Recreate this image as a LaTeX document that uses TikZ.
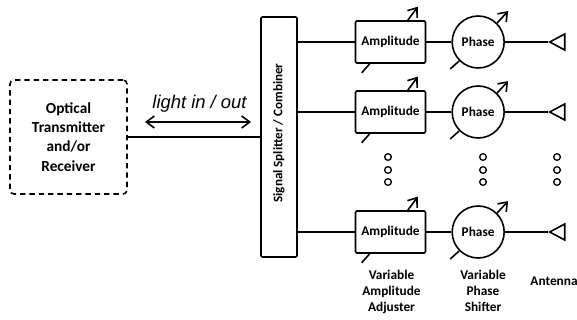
\documentclass[tikz,border=0pt]{standalone}
\usepackage{fontspec}
\setmainfont{Carlito}
\newfontfamily\arialfont{Liberation Sans}
\usetikzlibrary{positioning, calc}
\usetikzlibrary{arrows.meta}
\usetikzlibrary{shapes.geometric}
\tikzstyle{txbox}=[rectangle,line width=1.2pt,dash pattern=on 4pt off 3pt,rounded corners=3pt,draw=black,minimum width=87.75pt,minimum height=85.5pt,align=center,font=\fontsize{11.5pt}{14.4pt}\selectfont\bfseries]
\tikzstyle{splitbox}=[rectangle,line width=1.2pt,rounded corners=1pt,draw=black,minimum width=27pt,minimum height=180pt]
\tikzstyle{ampbox}=[rectangle,line width=1.2pt,rounded corners=1pt,draw=black,minimum width=52.5pt,minimum height=31.5pt,inner sep=0pt,font=\fontsize{10pt}{11pt}\selectfont\bfseries]
\tikzstyle{phasebox}=[circle,line width=1.2pt,draw=black,minimum size=39pt,inner sep=0pt,font=\fontsize{10pt}{11pt}\selectfont\bfseries]
\tikzstyle{antbox}=[isosceles triangle,isosceles triangle stretches,shape border rotate=180,line width=1.2pt,draw=black,minimum width=12pt,minimum height=11.25pt,inner sep=0pt]
\tikzstyle{dotbox}=[circle,line width=1pt,draw=black,minimum size=5pt,inner sep=0pt]
\tikzstyle{textbox}=[rectangle,align=center,inner sep=0pt,font=\fontsize{10pt}{12pt}\selectfont\bfseries]
\tikzstyle{edgepath}=[every edge/.style={draw,line width=1.2pt}]
\tikzstyle{stubpath}=[line width=1.2pt]
\tikzstyle{tunepath}=[-{Straight Barb[length=6pt,width=9pt]},line width=1.2pt]

\begin{document}
\begin{tikzpicture}[x=0.75pt,y=-0.75pt]
    \useasboundingbox (0,0) rectangle (577,320);
    \node[txbox] (tx) at (68.5,137) {Optical\\Transmitter\\and/or\\Receiver};
    \node[splitbox] (split) at (279,137) {};
    \node[rotate=90,font=\fontsize{9.8pt}{11pt}\selectfont\bfseries,inner sep=0pt] (splitlabel) at (279,133) {Signal Splitter / Combiner};
    \node[font=\fontsize{13.8pt}{15pt}\selectfont\arialfont\itshape,inner sep=0pt] (light) at (199.5,104) {light in / out};
    \coordinate (lightl) at (145,122);
    \coordinate (lightr) at (251,122);

    \node[ampbox] (a1) at (390.5,42) {Amplitude};
    \node[ampbox, below=19.8pt of a1] (a2) {Amplitude};
    \node[ampbox, below=57.3pt of a2] (a3) {Amplitude};
    \node[phasebox, right=18.8pt of a1] (p1) {Phase};
    \node[phasebox, right=18.8pt of a2] (p2) {Phase};
    \node[phasebox, right=18.8pt of a3] (p3) {Phase};
    \node[antbox, anchor=apex, right=32pt of p1] (ant1) {};
    \node[antbox, anchor=apex, right=32pt of p2] (ant2) {};
    \node[antbox, anchor=apex, right=32pt of p3] (ant3) {};

    \node[dotbox] (d1) at (388,157) {};
    \node[dotbox] (d2) at (388,170) {};
    \node[dotbox] (d3) at (388,182) {};
    \node[dotbox] (d4) at (483,157) {};
    \node[dotbox] (d5) at (483,170) {};
    \node[dotbox] (d6) at (483,182) {};
    \node[dotbox] (d7) at (557,157) {};
    \node[dotbox] (d8) at (557,170) {};
    \node[dotbox] (d9) at (557,182) {};

    \node[textbox] (lamp) at (391.5,292) {Variable\\Amplitude\\Adjuster};
    \node[textbox] (lphase) at (483,291) {Variable\\Phase\\Shifter};
    \node[textbox] (lant) at (554,281) {Antenna};

    \path[edgepath]
    (tx.east) edge (tx.east -| split.west)
    (a1.west -| split.east) edge (a1)
    (a2.west -| split.east) edge (a2)
    (a3.west -| split.east) edge (a3)
    (a1) edge (p1)
    (a2) edge (p2)
    (a3) edge (p3)
    (p1) edge (ant1.apex)
    (p2) edge (ant2.apex)
    (p3) edge (ant3.apex);
    \draw[{Straight Barb[length=6pt,width=9pt]}-{Straight Barb[length=6pt,width=9pt]},line width=1.2pt] (lightl) -- (lightr);

    % tuning arrows
    \draw[tunepath] ($(a1.north east)+(-18.5,0)$) -- ($(a1.north east)+(-8.5,-13.5)$);
    \draw[tunepath] ($(a2.north east)+(-18.5,0)$) -- ($(a2.north east)+(-8.5,-13.5)$);
    \draw[tunepath] ($(a3.north east)+(-18.5,0)$) -- ($(a3.north east)+(-8.5,-13.5)$);
    \draw[stubpath] ($(a1.south west)+(15,0)$) -- ($(a1.south west)+(7,9)$);
    \draw[stubpath] ($(a2.south west)+(15,0)$) -- ($(a2.south west)+(7,9)$);
    \draw[stubpath] ($(a3.south west)+(15,0)$) -- ($(a3.south west)+(7,9)$);
    \draw[tunepath] (p1.45) -- ($(p1.45)+(11,-12)$);
    \draw[tunepath] (p2.45) -- ($(p2.45)+(11,-12)$);
    \draw[tunepath] (p3.45) -- ($(p3.45)+(11,-12)$);
    \draw[stubpath] (p1.225) -- ($(p1.225)+(-9,8)$);
    \draw[stubpath] (p2.225) -- ($(p2.225)+(-9,8)$);
    \draw[stubpath] (p3.225) -- ($(p3.225)+(-9,8)$);
\end{tikzpicture}
\end{document}
